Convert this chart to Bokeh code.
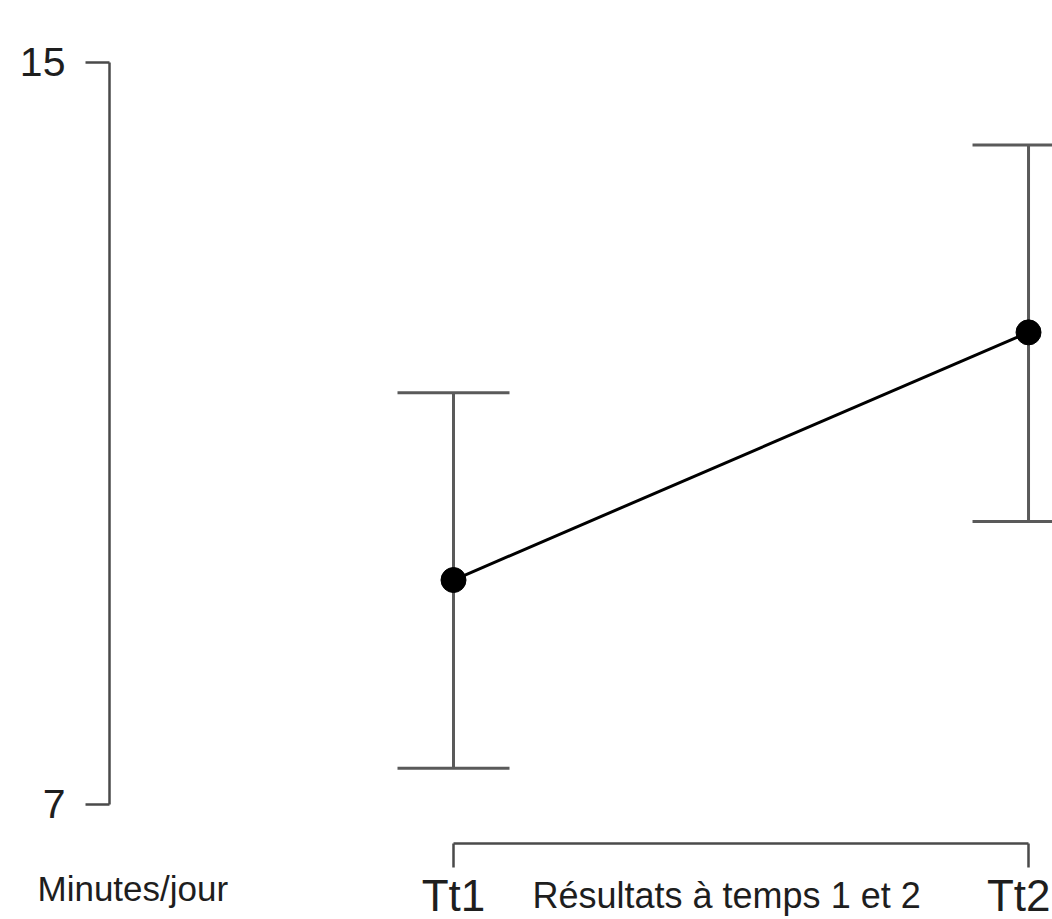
from bokeh.plotting import figure
from bokeh.models import (ColumnDataSource, LinearAxis, FixedTicker, Whisker, TeeHead,
                          Range1d, Label)
from bokeh.embed import file_html
from bokeh.resources import INLINE

# ---- data ----
times = [0, 1]
time_labels = ["Tt1", "Tt2"]
means = [9.42, 12.09]
upper = [11.44, 14.11]
lower = [7.39, 10.05]
y_ticks = [7, 15]

FONT = "Liberation Sans"
AXIS_COLOR = "#4a4a4a"
BAR_COLOR = "#5a5a5a"
TEXT_COLOR = "#1e1e1e"

src = ColumnDataSource(dict(x=times, mean=means, upper=upper, lower=lower))

p = figure(width=1052, height=919, output_backend="svg", toolbar_location=None,
           x_axis_location=None, y_axis_location=None,
           x_range=Range1d(-0.7878, 1.0417), y_range=Range1d(5.760, 15.668),
           min_border=0, min_border_left=0, min_border_right=0,
           min_border_top=0, min_border_bottom=0)
p.outline_line_color = None
p.xgrid.visible = False
p.ygrid.visible = False
p.background_fill_color = "white"

# y axis
yaxis = LinearAxis(fixed_location=-0.5983, bounds=(7, 15),
                   ticker=FixedTicker(ticks=y_ticks, minor_ticks=[]))
yaxis.axis_line_color = AXIS_COLOR
yaxis.axis_line_width = 2.5
yaxis.major_tick_line_color = AXIS_COLOR
yaxis.major_tick_line_width = 2.5
yaxis.major_tick_out = 24
yaxis.major_tick_in = 0
yaxis.minor_tick_line_color = None
yaxis.major_label_standoff = 20
yaxis.major_label_text_font = FONT
yaxis.major_label_text_font_size = "41px"
yaxis.major_label_text_color = TEXT_COLOR
p.add_layout(yaxis, "left")

# x axis (bracket); its labels are drawn below as Labels so they stay in view
xaxis = LinearAxis(fixed_location=6.5795, bounds=(0, 1),
                   ticker=FixedTicker(ticks=times, minor_ticks=[]))
xaxis.major_label_text_color = None
xaxis.axis_line_color = AXIS_COLOR
xaxis.axis_line_width = 2.5
xaxis.major_tick_line_color = AXIS_COLOR
xaxis.major_tick_line_width = 2.5
xaxis.major_tick_out = 24
xaxis.major_tick_in = 0
xaxis.minor_tick_line_color = None
p.add_layout(xaxis, "below")

# error bars
w = Whisker(source=src, base="x", upper="upper", lower="lower",
            line_color=BAR_COLOR, line_width=3, level="underlay",
            upper_head=TeeHead(size=112, line_color=BAR_COLOR, line_width=3),
            lower_head=TeeHead(size=112, line_color=BAR_COLOR, line_width=3))
p.add_layout(w)

# mean line and points
p.line("x", "mean", source=src, line_color="black", line_width=3)
p.scatter("x", "mean", source=src, size=25, fill_color="black", line_color="black")

# time labels under the bracket
p.add_layout(Label(x=times[0], y=0, x_units="data", y_units="screen",
                   text=time_labels[0], text_font=FONT, text_font_size="44px",
                   text_color=TEXT_COLOR, text_align="center", text_baseline="bottom"))
p.add_layout(Label(x=1050, y=0, x_units="screen", y_units="screen",
                   text=time_labels[1], text_font=FONT, text_font_size="44px",
                   text_color=TEXT_COLOR, text_align="right", text_baseline="bottom"))

# texts
p.add_layout(Label(x=37, y=31, x_units="screen", y_units="screen",
                   text="Minutes/jour", text_font=FONT, text_font_size="35px",
                   text_color=TEXT_COLOR, text_baseline="alphabetic"))
p.add_layout(Label(x=532, y=24, x_units="screen", y_units="screen",
                   text="Résultats à temps 1 et 2", text_font=FONT,
                   text_font_size="36px", text_color=TEXT_COLOR,
                   text_baseline="alphabetic"))

open("out.html", "w").write(file_html(p, INLINE))
